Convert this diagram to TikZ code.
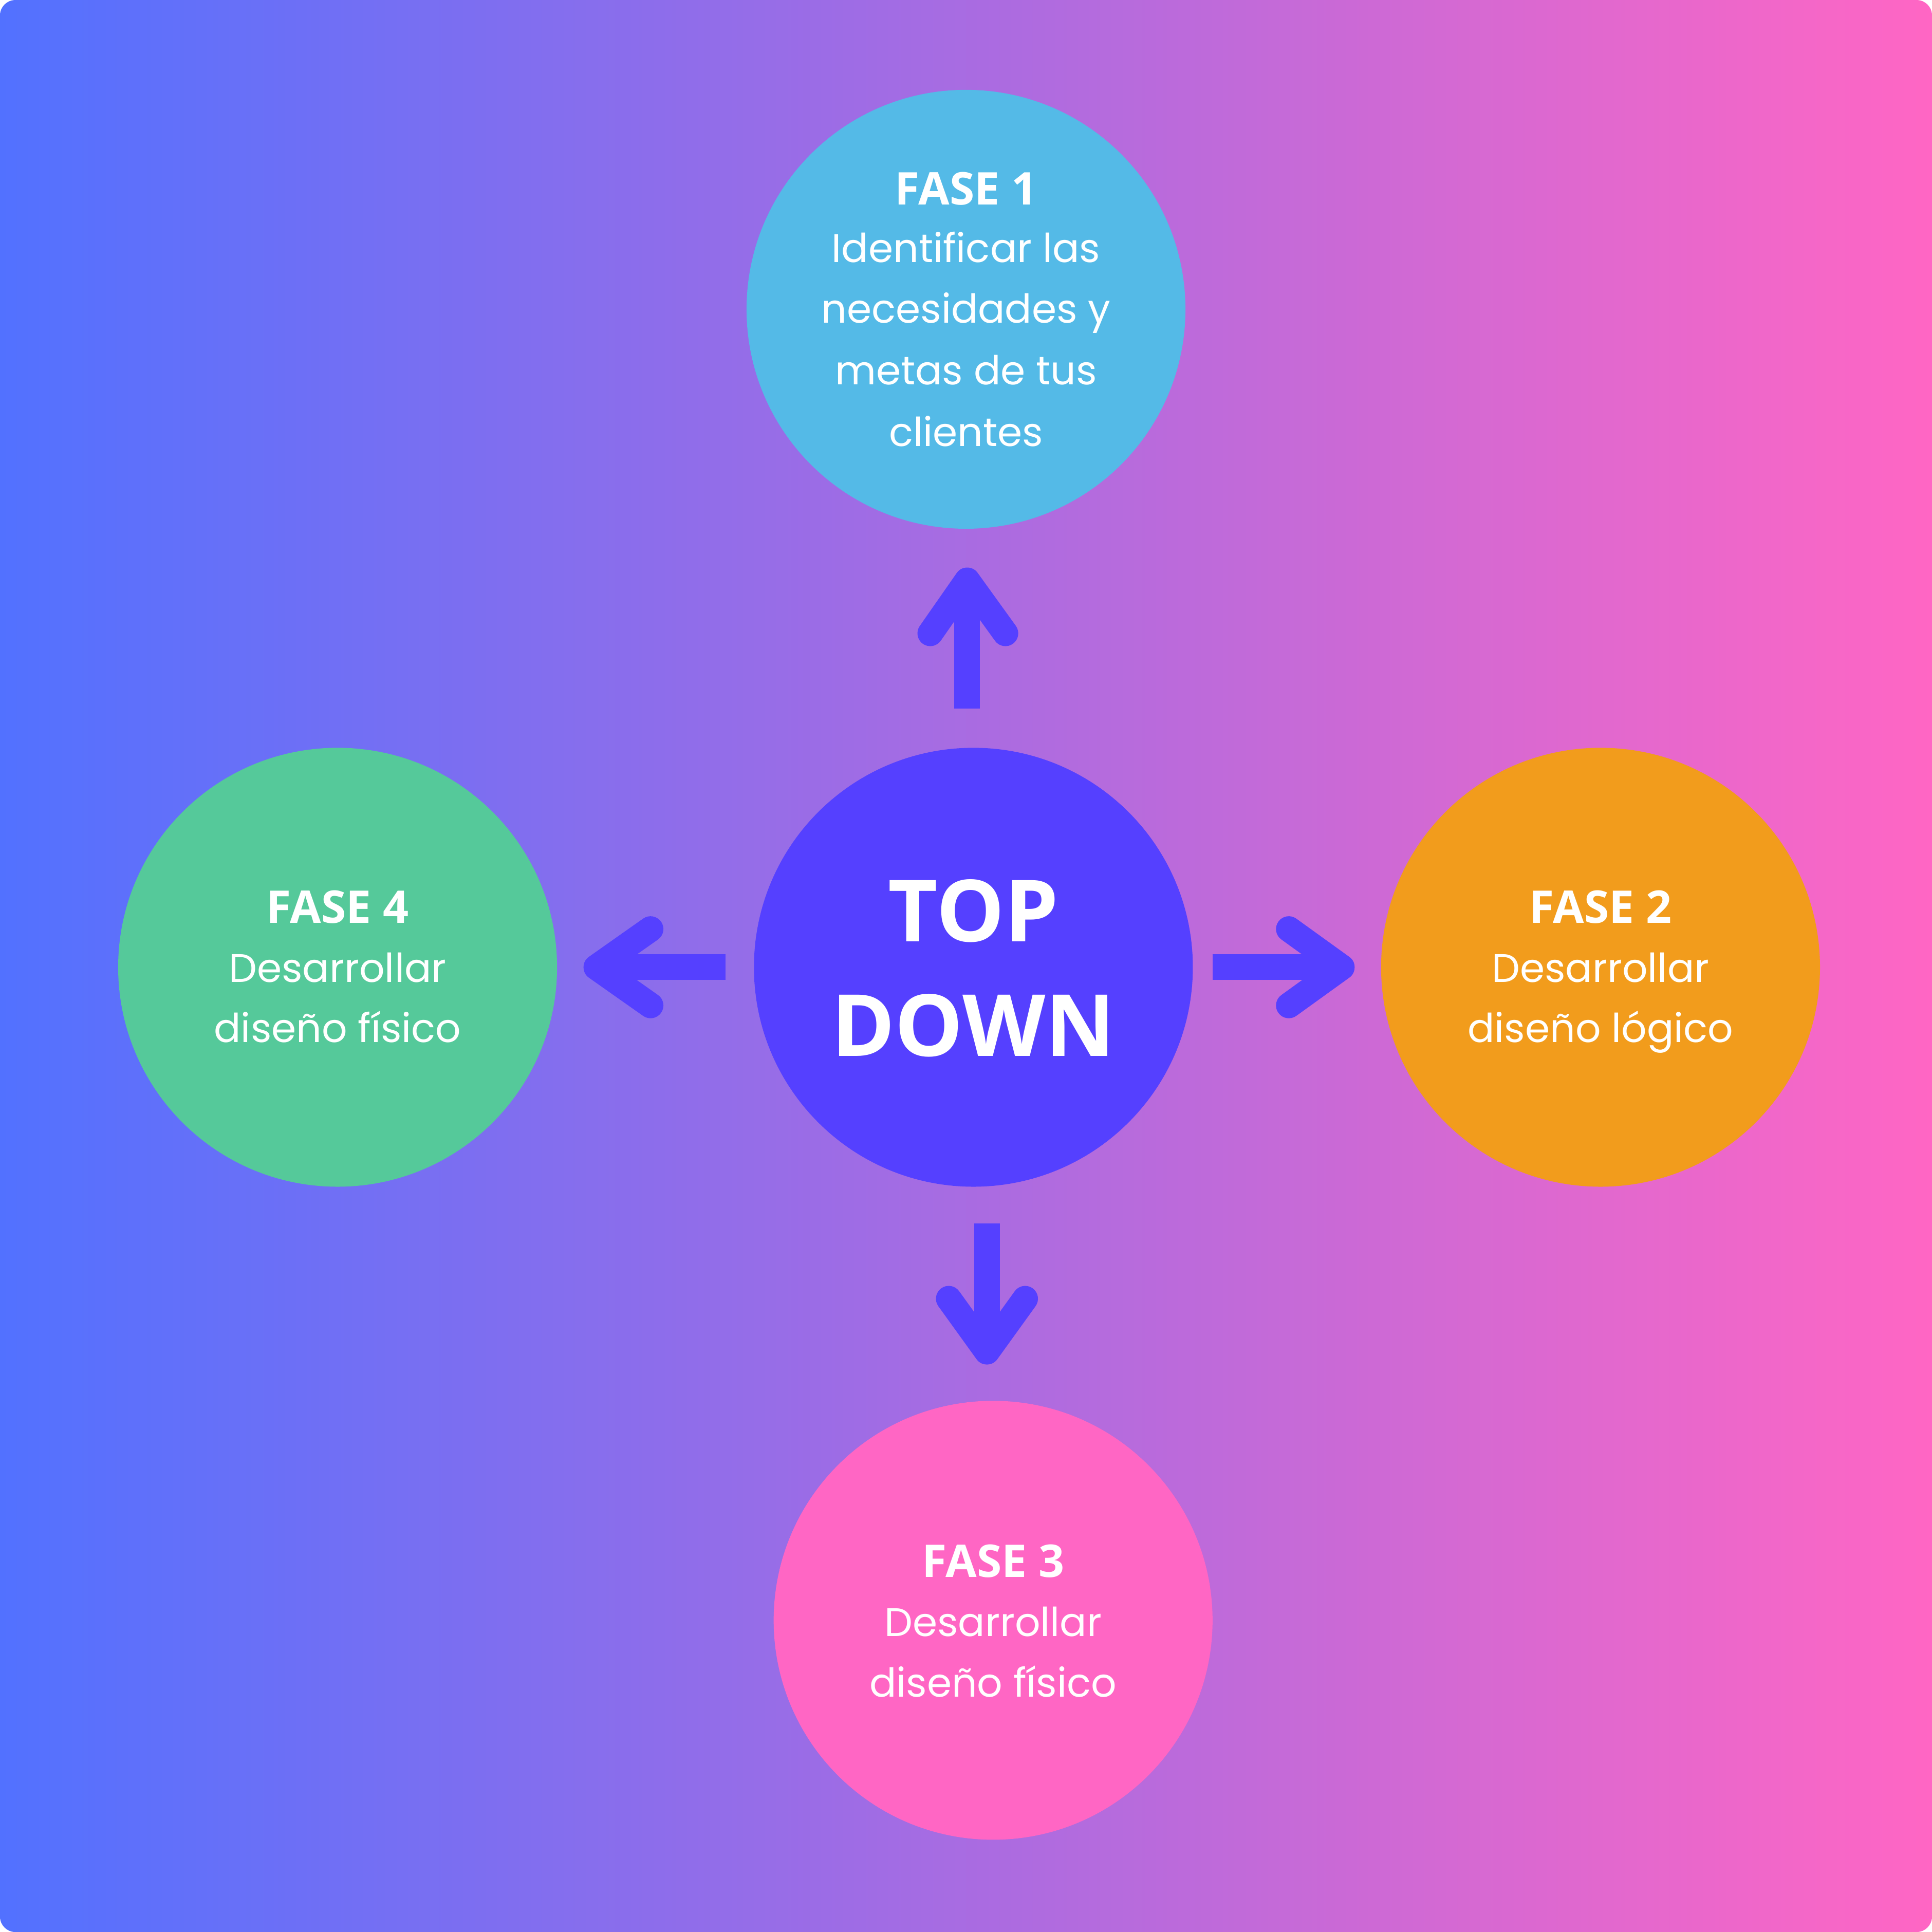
\documentclass[tikz,border=0pt]{standalone}
\usepackage{fontspec}
\setmainfont{Poppins}
\newfontfamily\headfont{Open Sans}
\definecolor{bgL}{HTML}{5271FF}
\definecolor{bgR}{HTML}{FF66C4}
\definecolor{core}{HTML}{5540FF}
\definecolor{cA}{HTML}{54BAE7}
\definecolor{cB}{HTML}{F29C1C}
\definecolor{cC}{HTML}{FF66C4}
\definecolor{cD}{HTML}{55C99A}
\begin{document}
\begin{tikzpicture}[x=0.01cm,y=-0.01cm,
 disc/.style={circle,minimum size=3.56cm,inner sep=0pt,draw=none},
 hd/.style={font=\headfont\bfseries\fontsize{10.4}{12}\selectfont,text=white,anchor=base,inner sep=0pt},
 bd/.style={font=\fontsize{9.2}{11}\selectfont,text=white,anchor=base,inner sep=0pt},
 big/.style={font=\headfont\bfseries\fontsize{19.8}{22}\selectfont,text=white,anchor=base,inner sep=0pt},
 shaft/.style={draw=core,line width=0.208cm},
 tip/.style={draw=core,line width=0.208cm,line cap=round,line join=round}]
\useasboundingbox (0,0) rectangle (1568,1568);
\shade[left color=bgL,right color=bgR,rounded corners=0.125cm] (0,0) rectangle (1568,1568);
% circles
\node[disc,fill=cA] (f1) at (784,251) {};
\node[disc,fill=core] (td) at (790,785) {};
\node[disc,fill=cB] (f2) at (1299,785) {};
\node[disc,fill=cD] (f4) at (274,785) {};
\node[disc,fill=cC] (f3) at (806,1315) {};
% texts
\node[hd] (f1h) at (784,166) {FASE 1};
\node[bd] (f1a) at (784,213) {Identificar las};
\node[bd] (f1b) at (784,262) {necesidades y};
\node[bd] (f1c) at (784,312) {metas de tus};
\node[bd] (f1d) at (784,362) {clientes};
\node[hd] (f2h) at (1299,749) {FASE 2};
\node[bd] (f2a) at (1299,797) {Desarrollar};
\node[bd] (f2b) at (1299,846) {diseño lógico};
\node[hd] (f4h) at (274,749) {FASE 4};
\node[bd] (f4a) at (274,797) {Desarrollar};
\node[bd] (f4b) at (274,846) {diseño físico};
\node[hd] (f3h) at (806,1280) {FASE 3};
\node[bd] (f3a) at (806,1328) {Desarrollar};
\node[bd] (f3b) at (806,1377) {diseño físico};
\node[big] (tdA) at (790,764) {TOP};
\node[big] (tdB) at (790,857) {DOWN};
% up arrow
\coordinate (uS) at (785,575); \coordinate (uE) at (785,480);
\coordinate (uL) at (755,514); \coordinate (uA) at (785,471); \coordinate (uR) at (816,514);
\draw[shaft] (uS) -- (uE);
\draw[tip] (uL) -- (uA) -- (uR);
% right arrow
\coordinate (rS) at (984,785); \coordinate (rE) at (1080,785);
\coordinate (rL) at (1046,754); \coordinate (rA) at (1089,785); \coordinate (rR) at (1046,816);
\draw[shaft] (rS) -- (rE);
\draw[tip] (rL) -- (rA) -- (rR);
% left arrow
\coordinate (lS) at (589,785); \coordinate (lE) at (493,785);
\coordinate (lL) at (528,754); \coordinate (lA) at (484,785); \coordinate (lR) at (528,816);
\draw[shaft] (lS) -- (lE);
\draw[tip] (lL) -- (lA) -- (lR);
% down arrow
\coordinate (dS) at (801,993); \coordinate (dE) at (801,1088);
\coordinate (dL) at (770,1054); \coordinate (dA) at (801,1097); \coordinate (dR) at (832,1054);
\draw[shaft] (dS) -- (dE);
\draw[tip] (dL) -- (dA) -- (dR);
\end{tikzpicture}
\end{document}
